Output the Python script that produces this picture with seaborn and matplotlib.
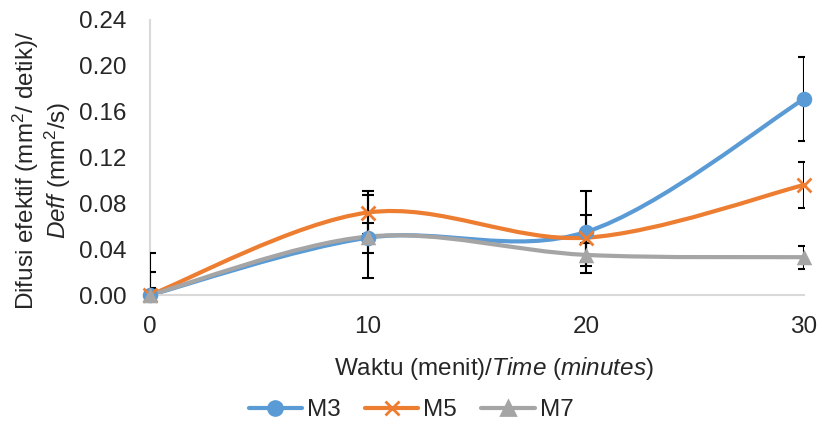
import matplotlib
matplotlib.use("Agg")
import matplotlib.pyplot as plt
from matplotlib.lines import Line2D
from matplotlib.path import Path
from matplotlib.patches import PathPatch
import numpy as np
import pandas as pd
import seaborn as sns

# data
time_min = [0, 10, 20, 30]
m3 = [0.0, 0.050, 0.055, 0.171]
m5 = [0.0, 0.072, 0.050, 0.096]
m7 = [0.0, 0.051, 0.035, 0.033]
m3_err = [0.037, 0.013, 0.036, 0.037]
m5_err = [0.020, 0.019, 0.020, 0.020]
m7_err = [0.006, 0.036, 0.010, 0.010]
series_names = ["M3", "M5", "M7"]
y_ticks = [0.00, 0.04, 0.08, 0.12, 0.16, 0.20, 0.24]
x_ticks = [0, 10, 20, 30]

colors = {"M3": "#5B9BD5", "M5": "#ED7D31", "M7": "#A5A5A5"}
markers = {"M3": "o", "M5": "x", "M7": "^"}

rows = []
for name, vals, errs in zip(series_names, [m3, m5, m7], [m3_err, m5_err, m7_err]):
    for t, v, e in zip(time_min, vals, errs):
        rows.append({"series": name, "time": t, "deff": v, "err": e})
df = pd.DataFrame(rows)

sns.set_style("white")
plt.rcParams["font.family"] = ["Liberation Sans", "DejaVu Sans"]
plt.rcParams["mathtext.fontset"] = "custom"
plt.rcParams["mathtext.rm"] = "Liberation Sans"
plt.rcParams["mathtext.it"] = "Liberation Sans:italic"

FS = 17.5

fig = plt.figure(figsize=(8.22, 4.32), dpi=100)
ax = fig.add_axes([150 / 822, 1 - 295 / 432, (804 - 150) / 822, (295 - 20) / 432])


def smooth_path(xs, ys):
    # Excel-style smoothed line: cubic Bezier segments, Catmull-Rom tangents
    pts = np.column_stack([xs, ys]).astype(float)
    n = len(pts)
    verts = [pts[0]]
    codes = [Path.MOVETO]
    for i in range(n - 1):
        p0 = pts[i - 1] if i > 0 else pts[i]
        p1 = pts[i]
        p2 = pts[i + 1]
        p3 = pts[i + 2] if i + 2 < n else pts[i + 1]
        c1 = p1 + (p2 - p0) / 6.0
        c2 = p2 - (p3 - p1) / 6.0
        verts += [c1, c2, p2]
        codes += [Path.CURVE4] * 3
    return Path(verts, codes)


for name in series_names:
    sub = df[df["series"] == name]
    patch = PathPatch(smooth_path(sub["time"], sub["deff"]), facecolor="none",
                      edgecolor=colors[name], lw=3.0, zorder=2, capstyle="round",
                      clip_on=False)
    ax.add_patch(patch)

for name in series_names:
    sub = df[df["series"] == name]
    ax.errorbar(sub["time"], sub["deff"], yerr=sub["err"], fmt="none",
                ecolor="black", elinewidth=1.5, capsize=4.5, capthick=1.5, zorder=3)

for name in series_names:
    sub = df[df["series"] == name]
    if markers[name] == "x":
        sns.scatterplot(data=sub, x="time", y="deff", color=colors[name],
                        marker="x", s=100, linewidth=2.0, legend=False, ax=ax, zorder=4)
    else:
        sns.scatterplot(data=sub, x="time", y="deff", color=colors[name],
                        marker=markers[name], s=125, linewidth=0, legend=False,
                        ax=ax, zorder=4)
for coll in ax.collections:
    if coll.get_offsets().shape[0] == len(time_min):
        coll.set_clip_on(False)

ax.set_xlim(0, 30)
ax.set_ylim(0, 0.24)
ax.set_xticks(x_ticks)
ax.set_yticks(y_ticks)
ax.set_yticklabels([f"{v:.2f}" for v in y_ticks])
ax.tick_params(axis="both", labelsize=FS, length=0)
ax.tick_params(axis="x", pad=15)
ax.tick_params(axis="y", pad=17)
for side in ["top", "right"]:
    ax.spines[side].set_visible(False)
for side in ["left", "bottom"]:
    ax.spines[side].set_color("#D9D9D9")
    ax.spines[side].set_linewidth(1.5)
ax.set_xlabel("Waktu (menit)/$\\it{Time}$ ($\\it{minutes}$)", fontsize=FS)
ax.xaxis.set_label_coords((494 - 150) / 654, (295 - 368) / 275)
ax.xaxis.label.set_va("center")
ax.set_ylabel("Difusi efektif (mm$^2$/ detik)/\n$\\it{Deff}$ (mm$^2$/s)", fontsize=FS,
              linespacing=1.05)
ax.yaxis.set_label_coords((42 - 150) / 654, (295 - 170) / 275)
ax.yaxis.label.set_va("center")

handles = [Line2D([0], [0], color=colors[n], lw=3.0, marker=markers[n], markersize=10,
                  markeredgewidth=2.0) for n in series_names]
fig.legend(handles, series_names, loc="center", bbox_to_anchor=(0.5, 1 - 410 / 432),
           ncol=3, frameon=False, fontsize=FS, handlelength=2.2, handletextpad=0.2,
           columnspacing=1.0)

fig.savefig("out.png", dpi=100)
